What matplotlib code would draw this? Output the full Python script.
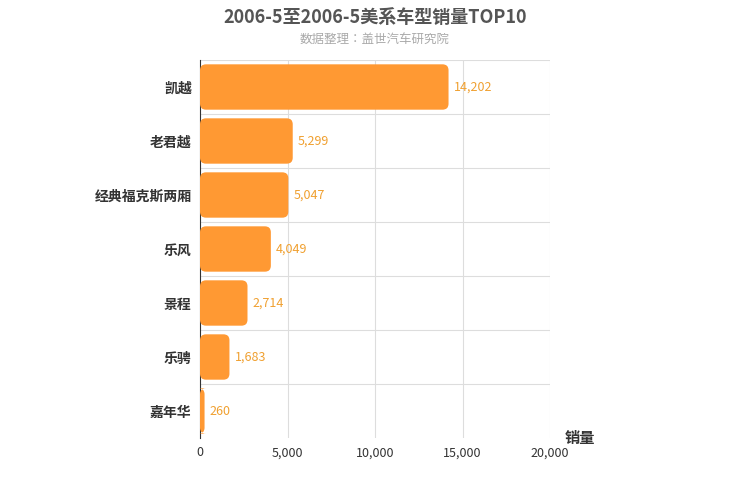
import matplotlib.pyplot as plt
from matplotlib.patches import FancyBboxPatch

plt.rcParams['font.family'] = ['Noto Sans CJK JP', 'Noto Sans CJK SC', 'Noto Sans CJK TC',
                               'Noto Sans CJK KR', 'DejaVu Sans']

models = ['凯越', '老君越', '经典福克斯两厢', '乐风', '景程', '乐骋', '嘉年华']
sales = [14202, 5299, 5047, 4049, 2714, 1683, 260]
xticks = [0, 5000, 10000, 15000, 20000]

fig = plt.figure(figsize=(7.5, 5), dpi=100)
ax = fig.add_axes([200 / 750, 1 - 438 / 500, 350 / 750, 378 / 500])
n = len(models)
ax.set_xlim(0, 20000)
ax.set_ylim(n - 0.5, -0.5)

# px -> data units, for rounded corners
ux = 20000 / 350
uy = n / 378
h = 0.84
for i, v in enumerate(sales):
    p = FancyBboxPatch((0, i - h / 2), v, h,
                       boxstyle="round,pad=0,rounding_size=%f" % (6 * ux),
                       mutation_aspect=uy / ux,
                       facecolor='#ff9933', edgecolor='none', zorder=3)
    ax.add_patch(p)
    ax.text(v + 5 * ux, i, format(v, ','), va='center', ha='left',
            color='#f0a030', fontsize=9, zorder=4)

ax.set_yticks(range(n))
ax.set_yticklabels(models, fontsize=10, fontweight='bold', color='#333333')
ax.set_xticks(xticks)
ax.set_xticklabels([format(t, ',') for t in xticks], fontsize=9, color='#333333')
ax.tick_params(length=0, pad=6)
for x in xticks[1:]:
    ax.axvline(x, color='#dddddd', lw=0.8, zorder=1)
for y in range(n):
    ax.axhline(y - 0.5, color='#dddddd', lw=0.8, zorder=1)
for s in ['top', 'right', 'bottom']:
    ax.spines[s].set_visible(False)
ax.spines['left'].set_color('#333333')

fig.text(0.5, 0.965, '2006-5至2006-5美系车型销量TOP10', ha='center', va='center',
         fontsize=13, fontweight='bold', color='#555555')
fig.text(0.5, 0.922, '数据整理：盖世汽车研究院', ha='center', va='center',
         fontsize=9, color='#aaaaaa')
fig.text(565 / 750, 1 - 438 / 500, '销量', ha='left', va='center',
         fontsize=11, fontweight='bold', color='#333333')

fig.savefig('out.png')
